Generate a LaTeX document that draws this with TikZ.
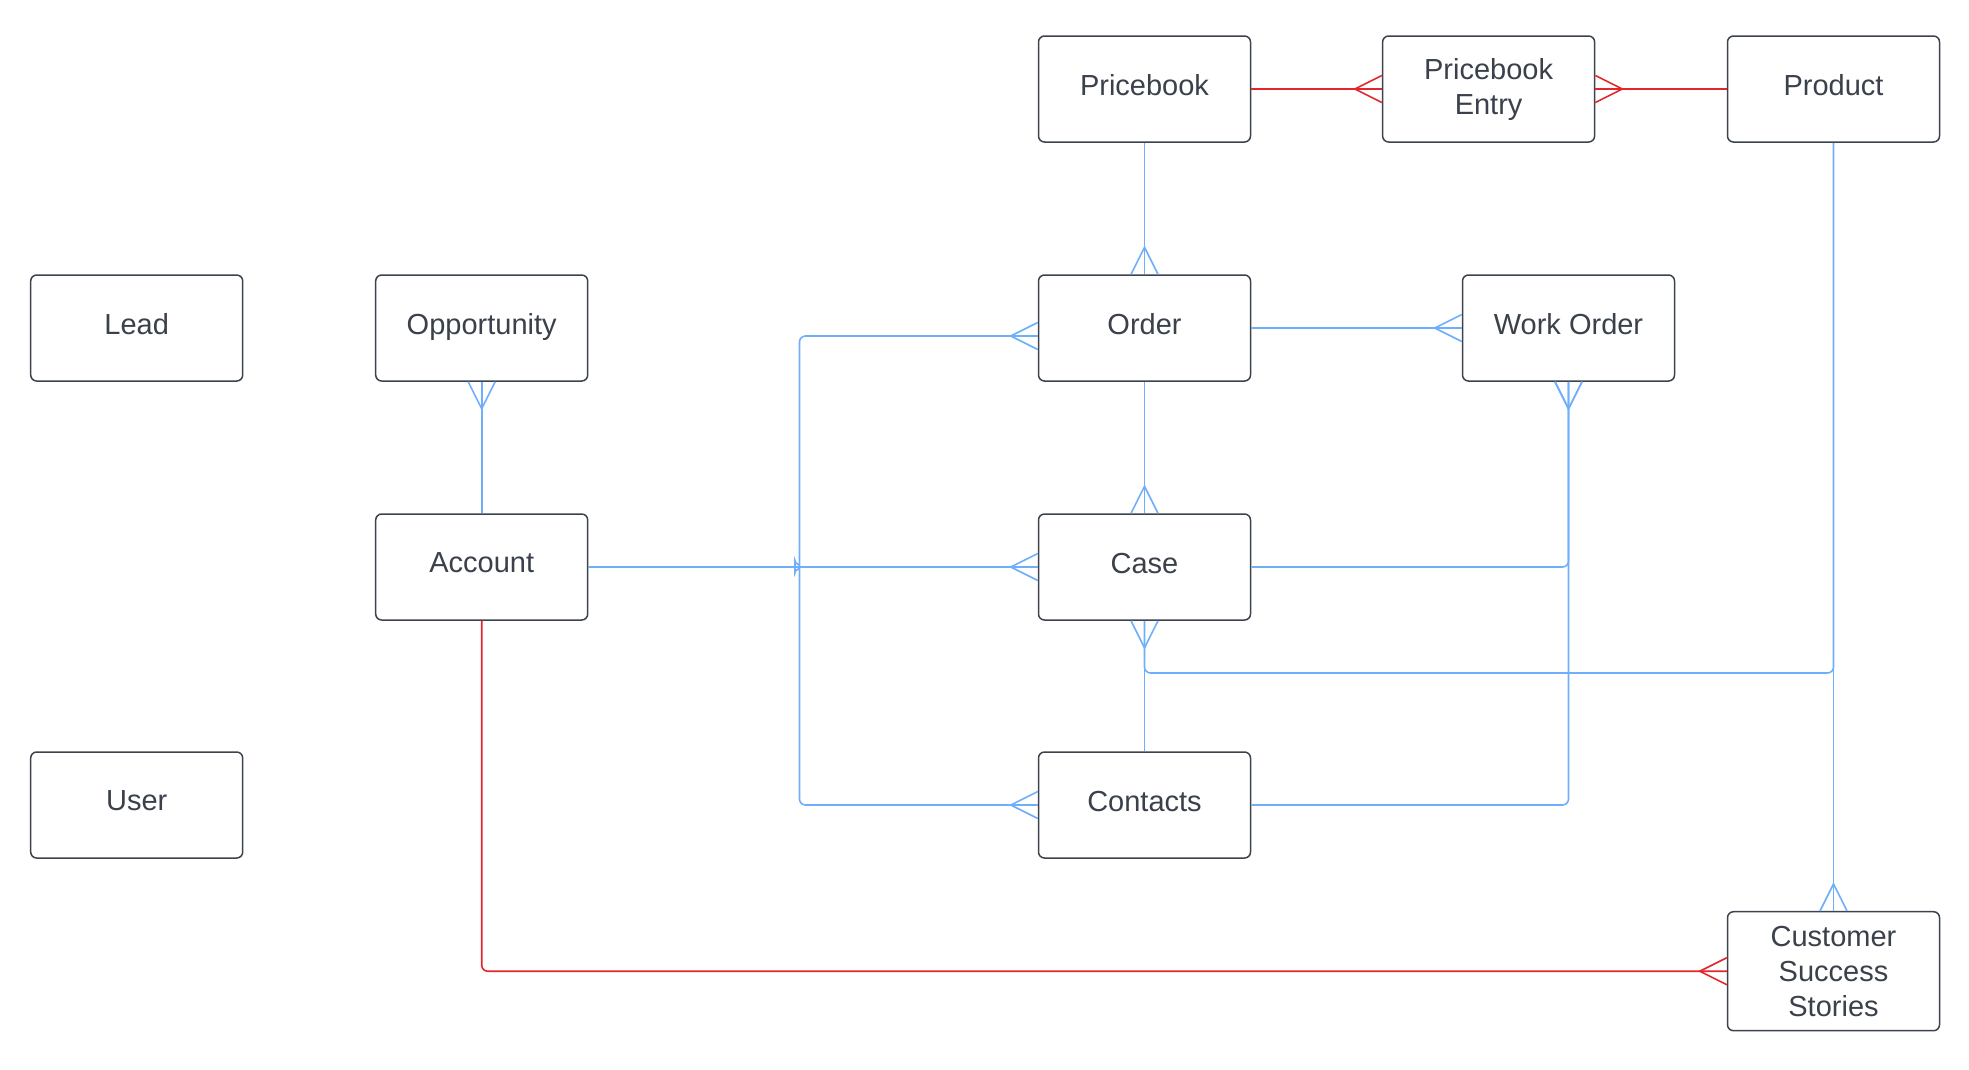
\documentclass[tikz,border=0pt]{standalone}
\usepackage{fontspec}
\setmainfont{Liberation Sans}
\definecolor{boxline}{HTML}{3C434D}
\definecolor{txt}{HTML}{3A414B}
\definecolor{relblue}{HTML}{6EAEFA}
\definecolor{relred}{HTML}{E3262B}
\newcommand{\liftup}[1]{\raisebox{8pt}{#1}}
\pgfdeclarearrow{
  name = Crow,
  parameters = {},
  setup code = {
    \pgfarrowssettipend{0pt}
    \pgfarrowssetlineend{0pt}
    \pgfarrowssetbackend{-27pt}
    \pgfarrowssetvisualbackend{-27pt}
  },
  drawing code = {
    \pgfpathmoveto{\pgfqpoint{0pt}{13.5pt}}
    \pgfpathlineto{\pgfqpoint{-27pt}{0pt}}
    \pgfpathlineto{\pgfqpoint{0pt}{-13.5pt}}
    \pgfusepathqstroke
  }
}
\begin{document}
\begin{tikzpicture}[x=1pt,y=-1pt,
  entity/.style={draw=boxline, line width=1.5pt, rounded corners=6pt, fill=white,
    minimum width=212pt, minimum height=106pt, inner sep=0pt, align=center,
    text=txt, font=\fontsize{29}{35}\selectfont},
  bluerel/.style={draw=relblue, line width=1.6pt, rounded corners=6pt},
  redrel/.style={draw=relred, line width=1.6pt, rounded corners=6pt}
]
\useasboundingbox (0,0) rectangle (1969,1069);

% entities
\node[entity] (pricebook) at (1144.5,89) {\liftup{Pricebook}};
\node[entity] (pbentry) at (1488.6,89) {Pricebook\\Entry};
\node[entity] (product) at (1833.5,89) {\liftup{Product}};
\node[entity] (lead) at (136.7,328) {\liftup{Lead}};
\node[entity] (opp) at (481.7,328) {\liftup{Opportunity}};
\node[entity] (order) at (1144.5,328) {\liftup{Order}};
\node[entity] (workorder) at (1568.5,328) {\liftup{Work Order}};
\node[entity] (account) at (481.7,567) {\liftup{Account}};
\node[entity] (case) at (1144.5,567) {\liftup{Case}};
\node[entity] (user) at (136.7,805) {\liftup{User}};
\node[entity] (contacts) at (1144.5,805) {\liftup{Contacts}};
\node[entity, minimum height=119pt] (css) at (1833.5,971.2) {Customer\\Success\\Stories};

% helper coordinates
\coordinate (ordjoin) at (799.5,336);
\coordinate (casebend) at (1144.5,673);
\coordinate (prodbend) at (1833.5,673);

% red relations
\draw[redrel, -Crow] (pricebook.east) -- (pbentry.west);
\draw[redrel, Crow-] (pbentry.east) -- (product.west);
\draw[redrel, -Crow] (account.south) |- (css.west);

% blue relations
\draw[bluerel, -Crow] (pricebook.south) -- (order.north);
\draw[bluerel, -Crow] (order.east) -- (workorder.west);
\draw[bluerel, -Crow] (order.south) -- (case.north);
\draw[bluerel, Crow-] (opp.south) -- (account.north);
\draw[bluerel, -Crow] (account.east) -- (case.west);
\draw[bluerel, Crow-] (workorder.south) |- (case.east);
\draw[bluerel, Crow-] (workorder.south) |- (contacts.east);
\draw[bluerel, Crow-] (case.south) -- (casebend) -- (prodbend) -- (product.south);
\draw[bluerel] (case.south) -- (contacts.north);
\draw[bluerel, -Crow] (product.south) -- (css.north);
\draw[bluerel, Crow-Crow] ([yshift=-8pt]order.west) -- (ordjoin) -- (799.5,560)
  .. controls (799.5,564) and (795,564) .. (795,566.7)
  .. controls (795,569.5) and (799.5,569.5) .. (799.5,573.5)
  -- (contacts.west -| ordjoin) -- (contacts.west);
\end{tikzpicture}
\end{document}
